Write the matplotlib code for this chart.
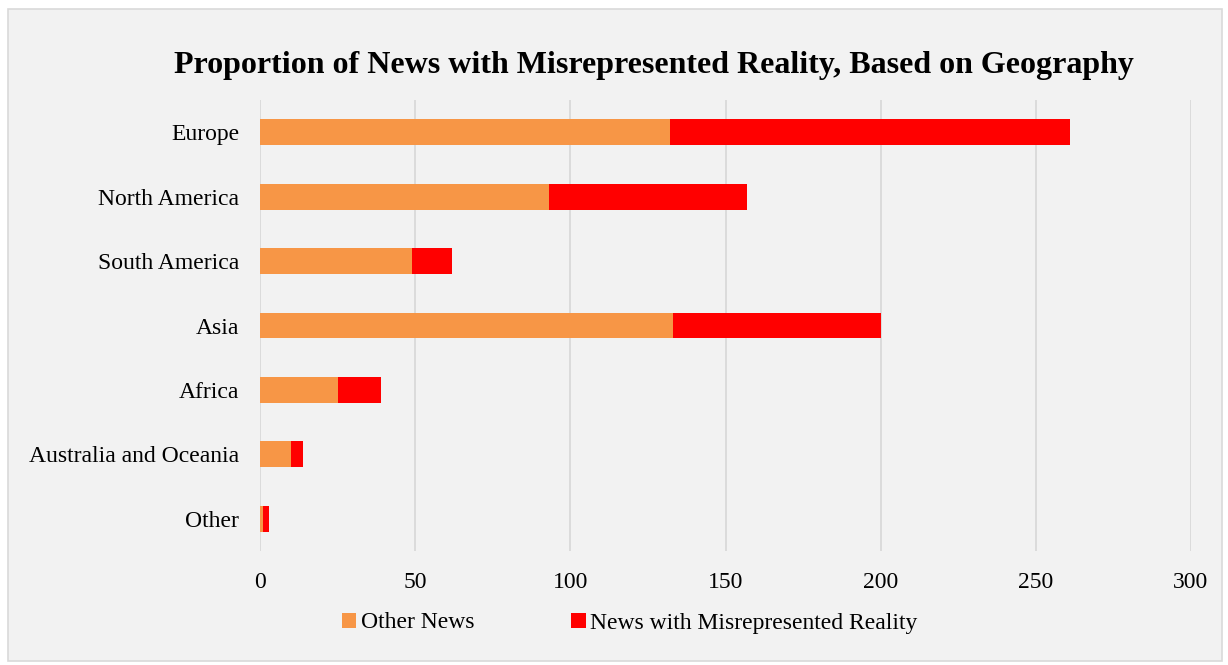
import matplotlib
matplotlib.use("Agg")
import matplotlib.pyplot as plt
import numpy as np
from matplotlib.patches import Rectangle

plt.rcParams["font.family"] = ["Liberation Serif", "DejaVu Serif"]

regions = ["Europe", "North America", "South America", "Asia", "Africa",
           "Australia and Oceania", "Other"]
other_news = [132, 93, 49, 133, 25, 10, 1]
misrep_news = [129, 64, 13, 67, 14, 4, 2]
x_ticks = [0, 50, 100, 150, 200, 250, 300]

BG = "#f2f2f2"
ORANGE = "#f79646"
RED = "#ff0000"

fig = plt.figure(figsize=(12.28, 6.65), dpi=100, facecolor="white")
# outer chart frame, kept behind the axes
fig.patches.append(Rectangle((8 / 1228, 1 - 661 / 665), 1214 / 1228, 652 / 665,
                             transform=fig.transFigure, facecolor=BG,
                             edgecolor="#d9d9d9", linewidth=1.2, zorder=-10))

ax = fig.add_axes([260 / 1228, 1 - 551 / 665, 931 / 1228, 451 / 665])
ax.set_facecolor(BG)
ax.set_zorder(5)

y = np.arange(len(regions))
ax.barh(y, other_news, height=0.4, color=ORANGE, label="Other News", zorder=3)
ax.barh(y, misrep_news, left=other_news, height=0.4, color=RED,
        label="News with Misrepresented Reality", zorder=3)

ax.set_xlim(0, 300)
ax.set_ylim(len(regions) - 0.5, -0.5)
ax.set_xticks(x_ticks)
ax.set_xticklabels([str(t) for t in x_ticks], fontsize=17)
ax.set_yticks(y)
ax.set_yticklabels(regions, fontsize=17)
ax.tick_params(axis="both", length=0)
ax.tick_params(axis="x", pad=15)
ax.tick_params(axis="y", pad=15)
ax.grid(axis="x", color="#d9d9d9", linewidth=1.3, zorder=0)
for s in ax.spines.values():
    s.set_visible(False)

fig.text(654 / 1228, 1 - 66 / 665,
         "Proportion of News with Misrepresented Reality, Based on Geography",
         ha="center", va="center", fontsize=23, fontweight="bold", zorder=6)

leg = fig.legend(loc="center", bbox_to_anchor=(630 / 1228, 1 - 623 / 665), ncol=2,
                 frameon=False, fontsize=17, handlelength=0.6, handleheight=0.6,
                 handletextpad=0.2, columnspacing=4.1)
leg.set_zorder(6)

fig.savefig("out.png", dpi=100, facecolor="white")
